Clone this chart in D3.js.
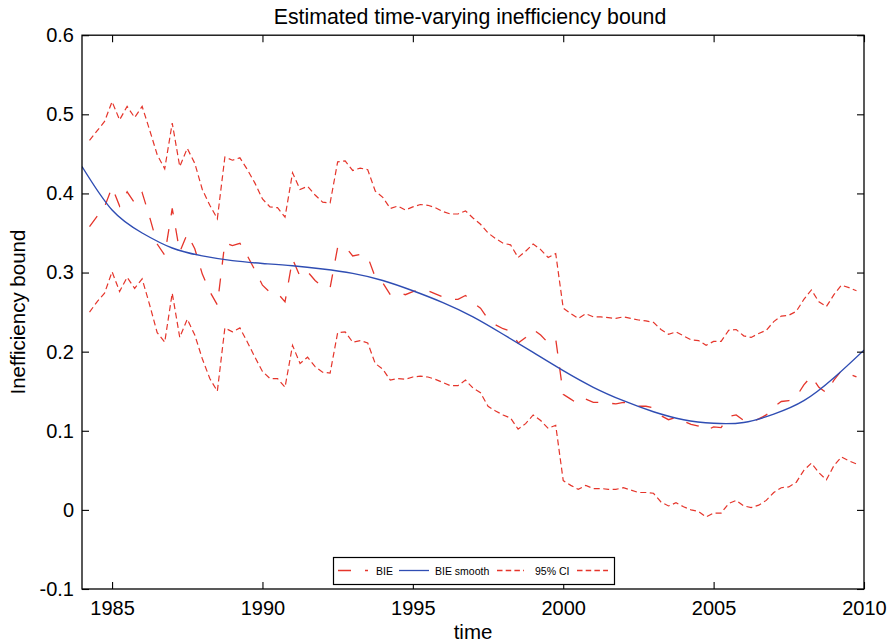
<!DOCTYPE html>
<html>
<head>
<meta charset="utf-8">
<script src="https://cdn.jsdelivr.net/npm/d3@7"></script>
<style>
body { margin: 0; background: #fff; }
text { font-family: "Liberation Sans", Arial, Helvetica, sans-serif; fill: #000; }
</style>
</head>
<body>
<svg id="chart" width="892" height="643"></svg>
<script>
// ---------------- DATA ----------------
const firstQuarter = 1984.25;   // quarterly observations
const quarterStep = 0.25;

const bie = [
  0.358, 0.371, 0.383, 0.408, 0.384, 0.402, 0.388, 0.401, 0.370, 0.336,
  0.322, 0.381, 0.326, 0.349, 0.330, 0.298, 0.276, 0.259, 0.338, 0.334,
  0.337, 0.321, 0.303, 0.284, 0.275, 0.274, 0.263, 0.317, 0.295, 0.301,
  0.290, 0.282, 0.281, 0.332, 0.333, 0.321, 0.323, 0.320, 0.294, 0.287,
  0.272, 0.275, 0.272, 0.276, 0.278, 0.277, 0.273, 0.269, 0.266, 0.266,
  0.271, 0.262, 0.255, 0.241, 0.234, 0.229, 0.226, 0.211, 0.218, 0.228,
  0.221, 0.211, 0.216, 0.146, 0.140, 0.134, 0.140, 0.136, 0.136, 0.135,
  0.134, 0.136, 0.134, 0.131, 0.131, 0.129, 0.119, 0.114, 0.117, 0.112,
  0.108, 0.106, 0.100, 0.105, 0.104, 0.118, 0.120, 0.113, 0.111, 0.115,
  0.120, 0.130, 0.137, 0.138, 0.143, 0.158, 0.169, 0.155, 0.148, 0.164,
  0.176, 0.172, 0.168
];

const ciUpper = [
  0.467, 0.479, 0.491, 0.516, 0.493, 0.510, 0.496, 0.510, 0.480, 0.449,
  0.431, 0.489, 0.434, 0.457, 0.438, 0.405, 0.385, 0.368, 0.446, 0.442,
  0.445, 0.430, 0.413, 0.393, 0.383, 0.382, 0.370, 0.426, 0.405, 0.409,
  0.398, 0.389, 0.388, 0.440, 0.441, 0.429, 0.432, 0.430, 0.403, 0.395,
  0.381, 0.384, 0.379, 0.383, 0.386, 0.385, 0.382, 0.377, 0.374, 0.374,
  0.378, 0.369, 0.361, 0.350, 0.343, 0.337, 0.335, 0.319, 0.327, 0.336,
  0.329, 0.319, 0.324, 0.255, 0.248, 0.242, 0.248, 0.244, 0.244, 0.243,
  0.242, 0.244, 0.242, 0.240, 0.239, 0.237, 0.228, 0.222, 0.225, 0.220,
  0.215, 0.214, 0.208, 0.213, 0.213, 0.227, 0.228, 0.220, 0.218, 0.223,
  0.227, 0.238, 0.245, 0.246, 0.251, 0.266, 0.278, 0.263, 0.257, 0.272,
  0.284, 0.281, 0.277
];

const ciLower = [
  0.250, 0.263, 0.274, 0.301, 0.276, 0.294, 0.280, 0.292, 0.259, 0.224,
  0.212, 0.274, 0.218, 0.241, 0.221, 0.191, 0.166, 0.150, 0.230, 0.225,
  0.230, 0.212, 0.193, 0.175, 0.166, 0.166, 0.155, 0.208, 0.185, 0.193,
  0.181, 0.174, 0.173, 0.224, 0.225, 0.212, 0.214, 0.211, 0.185, 0.178,
  0.164, 0.166, 0.165, 0.168, 0.169, 0.168, 0.165, 0.161, 0.157, 0.157,
  0.164, 0.154, 0.148, 0.131, 0.125, 0.120, 0.116, 0.102, 0.109, 0.120,
  0.113, 0.103, 0.107, 0.037, 0.031, 0.026, 0.031, 0.027, 0.027, 0.026,
  0.026, 0.028, 0.025, 0.022, 0.022, 0.021, 0.010, 0.005, 0.009, 0.004,
  0.000, -0.002, -0.009, -0.004, -0.004, 0.008, 0.012, 0.005, 0.003, 0.006,
  0.012, 0.022, 0.028, 0.029, 0.035, 0.050, 0.059, 0.047, 0.038, 0.056,
  0.067, 0.062, 0.058
];

const smoothYears = [
  1984, 1985, 1986, 1987, 1988, 1989, 1990, 1991, 1992, 1993, 1994, 1995, 1996,
  1997, 1998, 1999, 2000, 2001, 2002, 2003, 2004, 2005, 2006, 2007, 2008, 2009, 2010
];
const smoothValues = [
  0.434, 0.379, 0.350, 0.331, 0.321, 0.315, 0.3115, 0.3085, 0.3045, 0.299, 0.290, 0.277, 0.262,
  0.244, 0.222, 0.199, 0.176, 0.155, 0.138, 0.124, 0.114, 0.1095, 0.1105, 0.121, 0.138, 0.167, 0.202
];

const xTicks = [1985, 1990, 1995, 2000, 2005, 2010];
const yTicks = [-0.1, 0, 0.1, 0.2, 0.3, 0.4, 0.5, 0.6];
const legendLabels = ["BIE", "BIE smooth", "95% CI", ""];

const titleText = "Estimated time-varying inefficiency bound";
const xLabel = "time";
const yLabel = "Inefficiency bound";

// ---------------- LAYOUT ----------------
const plot = { left: 82, right: 864, top: 35.2, bottom: 589 };
const RED = "#e5352b", BLUE = "#2f4db3";

const svg = d3.select("#chart");

const x = d3.scaleLinear().domain([1984, 2010]).range([plot.left, plot.right]);
const y = d3.scaleLinear().domain([-0.1, 0.6]).range([plot.bottom, plot.top]);

const times = bie.map((_, i) => firstQuarter + i * quarterStep);

svg.append("defs").append("clipPath").attr("id", "clip")
  .append("rect")
  .attr("x", plot.left).attr("y", plot.top)
  .attr("width", plot.right - plot.left).attr("height", plot.bottom - plot.top);

const g = svg.append("g").attr("clip-path", "url(#clip)");

const line = d3.line().x(d => x(d[0])).y(d => y(d[1]));

// CI lines
[ciUpper, ciLower].forEach(arr => {
  g.append("path")
    .datum(arr.map((v, i) => [times[i], v]))
    .attr("d", line)
    .attr("fill", "none")
    .attr("stroke", RED)
    .attr("stroke-width", 1.2)
    .attr("stroke-dasharray", "6,3.5");
});

// BIE
g.append("path")
  .datum(bie.map((v, i) => [times[i], v]))
  .attr("d", line)
  .attr("fill", "none")
  .attr("stroke", RED)
  .attr("stroke-width", 1.3)
  .attr("stroke-dasharray", "13,14");

// Smooth
g.append("path")
  .datum(smoothValues.map((v, i) => [smoothYears[i], v]))
  .attr("d", d3.line().x(d => x(d[0])).y(d => y(d[1])).curve(d3.curveNatural))
  .attr("fill", "none")
  .attr("stroke", BLUE)
  .attr("stroke-width", 1.4);

// ---------------- AXES (box style, inward ticks) ----------------
const tickLen = 7;
const axisBottom = d3.axisBottom(x).tickValues(xTicks).tickSize(-tickLen).tickPadding(12).tickFormat(d3.format("d"));
const axisTop = d3.axisTop(x).tickValues(xTicks).tickSize(-tickLen).tickFormat("");
const axisLeft = d3.axisLeft(y).tickValues(yTicks).tickSize(-tickLen).tickPadding(8)
  .tickFormat(d => (Math.abs(d) < 1e-9 ? "0" : d3.format(".1f")(d).replace("\u2212", "-")));
const axisRight = d3.axisRight(y).tickValues(yTicks).tickSize(-tickLen).tickFormat("");

function styleAxis(sel) {
  sel.select(".domain").remove();
  sel.selectAll(".tick line").attr("stroke", "#000").attr("stroke-width", 1.1);
  sel.selectAll(".tick text").attr("font-size", 20).attr("font-family", "Liberation Sans, Arial, sans-serif");
}

svg.append("g").attr("transform", `translate(0,${plot.bottom})`).call(axisBottom).call(styleAxis);
svg.append("g").attr("transform", `translate(0,${plot.top})`).call(axisTop).call(styleAxis);
svg.append("g").attr("transform", `translate(${plot.left},0)`).call(axisLeft).call(styleAxis);
svg.append("g").attr("transform", `translate(${plot.right},0)`).call(axisRight).call(styleAxis);

// frame
svg.append("rect")
  .attr("x", plot.left).attr("y", plot.top)
  .attr("width", plot.right - plot.left).attr("height", plot.bottom - plot.top)
  .attr("fill", "none").attr("stroke", "#000").attr("stroke-width", 1.3);

// ---------------- TEXT ----------------
svg.append("text")
  .attr("x", (plot.left + plot.right) / 2 - 3).attr("y", 24)
  .attr("text-anchor", "middle").attr("font-size", 21.3)
  .text(titleText);

svg.append("text")
  .attr("x", (plot.left + plot.right) / 2).attr("y", 639)
  .attr("text-anchor", "middle").attr("font-size", 20.5)
  .text(xLabel);

svg.append("text")
  .attr("transform", `translate(25,${(plot.top + plot.bottom) / 2}) rotate(-90)`)
  .attr("text-anchor", "middle").attr("font-size", 20.5)
  .text(yLabel);

// ---------------- LEGEND ----------------
const lg = svg.append("g");
lg.append("rect")
  .attr("x", 333.5).attr("y", 557.5).attr("width", 281).attr("height", 27)
  .attr("fill", "#fff").attr("stroke", "#000").attr("stroke-width", 1.2);

const legendItems = [
  { label: legendLabels[0], color: RED, dash: "13,14", x0: 338, x1: 368, tx: 376 },
  { label: legendLabels[1], color: BLUE, dash: null, x0: 399, x1: 429, tx: 435 },
  { label: legendLabels[2], color: RED, dash: "5.5,3.2", x0: 497, x1: 524, tx: 535 },
  { label: legendLabels[3], color: RED, dash: "5.5,3.2", x0: 577, x1: 608, tx: 612 }
];
const ly = 570.5;
legendItems.forEach(it => {
  lg.append("line")
    .attr("x1", it.x0).attr("x2", it.x1).attr("y1", ly).attr("y2", ly)
    .attr("stroke", it.color).attr("stroke-width", 1.3)
    .attr("stroke-dasharray", it.dash);
  if (it.label) {
    lg.append("text")
      .attr("x", it.tx).attr("y", ly + 4)
      .attr("font-size", 10.5)
      .text(it.label);
  }
});
</script>
</body>
</html>
